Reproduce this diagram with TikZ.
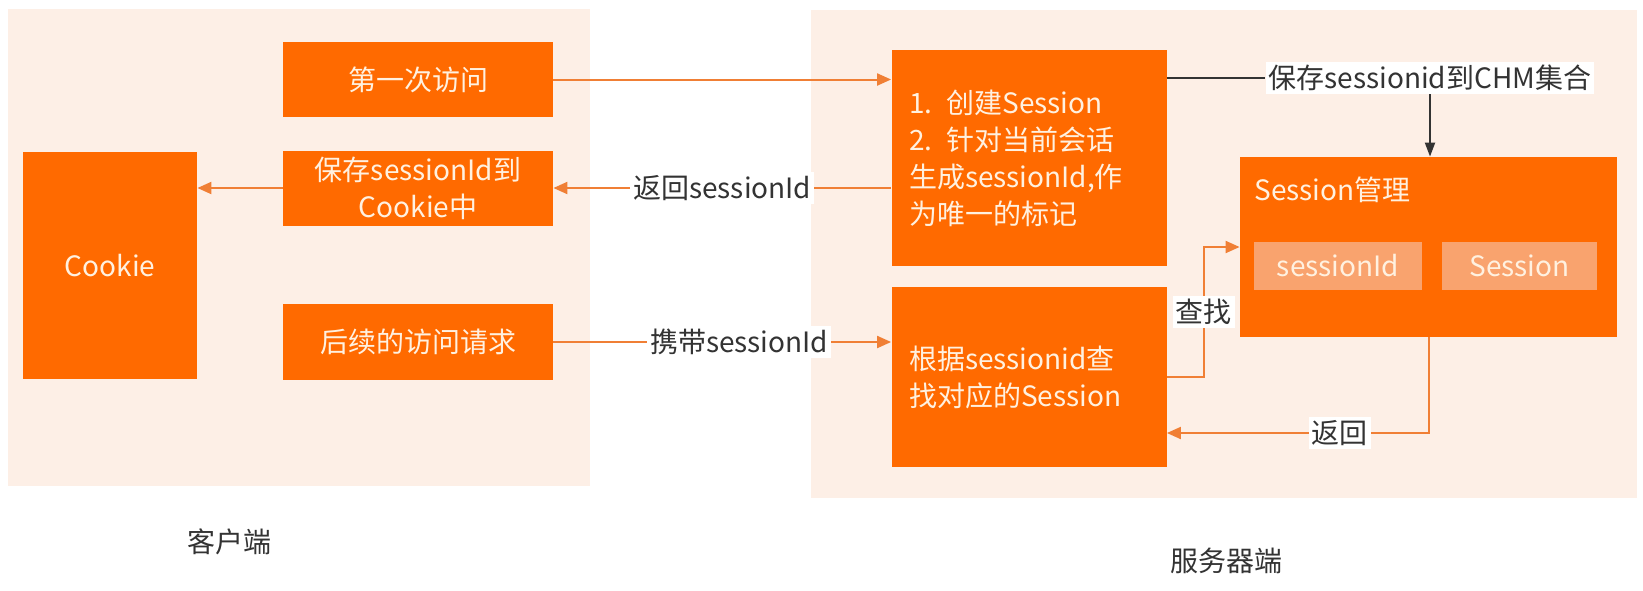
\documentclass[tikz,border=0pt]{standalone}
\usepackage{fontspec}
\setmainfont{Noto Sans CJK SC}
\usepackage{tikz}
\usetikzlibrary{positioning,arrows.meta}
\definecolor{boxorange}{HTML}{FF6A00}
\definecolor{panelbg}{HTML}{FDEFE6}
\definecolor{cellorange}{HTML}{F9A36E}
\definecolor{lineorange}{HTML}{F07F35}
\definecolor{boxtext}{HTML}{FFF1E0}
\definecolor{labeltext}{HTML}{333333}
\tikzset{
  flow/.style={-{Triangle[length=7pt,width=6pt]}, line width=1pt, lineorange},
  blackflow/.style={-{Triangle[length=7pt,width=5pt]}, line width=1pt, labeltext},
  blackline/.style={line width=1pt, labeltext},
  obox/.style={fill=boxorange, text=boxtext, align=center, inner sep=0pt},
  textbox/.style={fill=boxorange, text=boxtext, align=left, text width=120pt, inner xsep=8.75pt, inner ysep=0pt},
  cell/.style={fill=cellorange, text=boxtext, minimum height=24pt, inner sep=0pt},
  flowlabel/.style={fill=white, text=labeltext, inner sep=1.5pt},
  sidelabel/.style={text=labeltext}
}

\begin{document}
\begin{tikzpicture}[x=0.5pt, y=-0.5pt, every node/.style={font=\fontsize{14}{18.5}\selectfont}]
  \useasboundingbox (0,0) rectangle (1643,590);
  \fill[panelbg] (8,9) rectangle (590,486);
  \fill[panelbg] (811,10) rectangle (1637,498);

  \node[obox, minimum width=87pt, minimum height=113.5pt] (cookie) at (110,265.5) {Cookie};
  \node[obox, minimum width=135pt, minimum height=37.5pt] (first) at (418,79.5) {第一次访问};
  \node[obox, minimum width=135pt, minimum height=37.5pt] (save) at (418,188) {保存sessionId到\\Cookie中};
  \node[obox, minimum width=135pt, minimum height=38pt] (later) at (418,342) {后续的访问请求};

  \node[textbox, minimum height=108pt] (create) at (1029,158) {1. 创建Session\\2. 针对当前会话\\生成sessionId,作\\为唯一的标记};
  \node[textbox, minimum height=90pt] (lookup) at (1029,377) {根据sessionid查\\找对应的Session};

  \node[obox, minimum width=188.5pt, minimum height=90pt] (mgr) at (1428.5,247) {};
  \node[anchor=west, text=boxtext, inner sep=0pt] (mgrtitle) at (1254,190) {Session管理};
  \node[cell, minimum width=84pt] (sid) at (1338,266) {sessionId};
  \node[cell, minimum width=77.5pt] (sobj) at (1519.5,266) {Session};

  \node[flowlabel] (chm) at (1430,78) {保存sessionid到CHM集合};
  \node[sidelabel] (clientlabel) at (229,542) {客户端};
  \node[sidelabel] (serverlabel) at (1226,561) {服务器端};

  \draw[flow] (first.east) -- (first.east -| create.west);
  \draw[flow] (create.west |- save.east) -- node[flowlabel]{返回sessionId} (save.east);
  \draw[flow] (save.west) -- (save.west -| cookie.east);
  \draw[flow] (later.east) -- node[flowlabel, pos=0.55]{携带sessionId} (later.east -| lookup.west);
  \draw[blackline] (create.east |- chm.west) -- (chm.west);
  \draw[blackflow] (chm.south) -- (chm.south |- mgr.north);
  \draw[flow] (lookup.east) -- ++(37,0) |- node[flowlabel, pos=0.25]{查找} (mgr.west);
  \draw[flow] (mgr.south) |- node[flowlabel, pos=0.67]{返回} ([yshift=-28pt]lookup.east);
\end{tikzpicture}
\end{document}
